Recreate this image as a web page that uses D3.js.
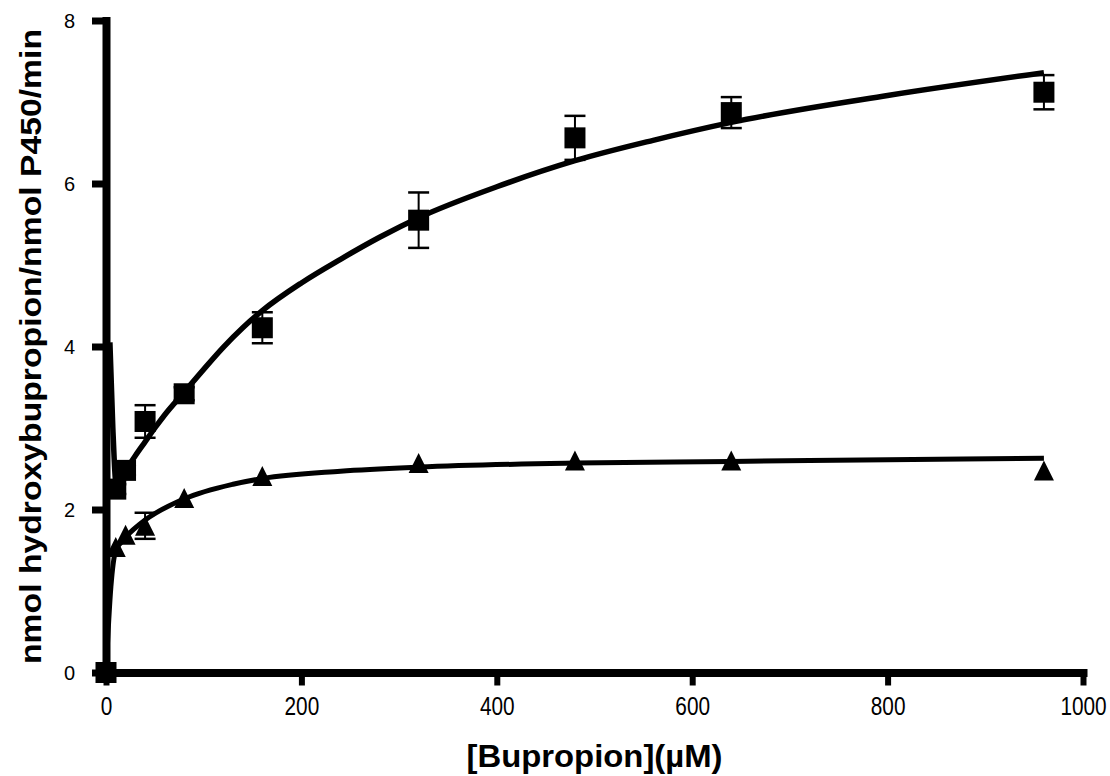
<!DOCTYPE html>
<html>
<head>
<meta charset="utf-8">
<script src="https://cdn.jsdelivr.net/npm/d3@7"></script>
<style>
  body { margin: 0; background: #fff; }
  svg { display: block; font-family: "Liberation Sans", Arial, sans-serif; }
</style>
</head>
<body>
<svg id="chart" width="1110" height="776"></svg>
<script>
// measured points (uM bupropion), mean and error
const conc = [0, 10, 20, 40, 80, 160, 320, 480, 640, 960];
const squareMean = [0, 2.25, 2.48, 3.08, 3.42, 4.23, 5.55, 6.56, 6.87, 7.12];
const squareErr = [0, 0.06, 0.06, 0.2, 0.08, 0.19, 0.34, 0.27, 0.19, 0.21];
const triMean = [0, 1.54, 1.69, 1.8, 2.14, 2.41, 2.57, 2.6, 2.6, 2.48];
const triErr = [0, 0, 0, 0.16, 0, 0, 0, 0, 0, 0];

// fitted curves
const squareFitX = [4, 7, 10.5, 20, 30, 40, 50, 60, 80, 100, 120, 140, 160, 200, 240, 280, 320, 400, 480, 560, 640, 800, 960];
const squareFitY = [4.05, 3.0, 2.3, 2.48, 2.66, 2.83, 3.0, 3.16, 3.44, 3.72, 3.99, 4.23, 4.44, 4.78, 5.07, 5.34, 5.58, 5.96, 6.28, 6.53, 6.75, 7.08, 7.36];
const triFitX = [0, 5, 10, 15, 20, 40, 80, 130, 160, 240, 320, 480, 640, 800, 960];
const triFitY = [0, 1.05, 1.5, 1.59, 1.66, 1.87, 2.13, 2.31, 2.38, 2.47, 2.52, 2.57, 2.59, 2.61, 2.63];

const xTicks = [0, 200, 400, 600, 800, 1000];
const yTicks = [0, 2, 4, 6, 8];

const svg = d3.select("#chart");

const x = d3.scaleLinear().domain([0, 1000]).range([106, 1083]);
const y = d3.scaleLinear().domain([0, 8]).range([672.5, 20.5]);

// axes
const yAxis = svg.append("g")
    .attr("transform", "translate(" + x(0) + ",0)")
    .call(d3.axisLeft(y).tickValues(yTicks).tickSize(14).tickSizeOuter(0).tickFormat(d3.format("d")))
    .attr("font-size", null).attr("font-family", null);
yAxis.select(".domain").attr("stroke", "#000").attr("stroke-width", 8).attr("stroke-linecap", "square");
yAxis.selectAll(".tick line").attr("stroke", "#000").attr("stroke-width", 7);
yAxis.selectAll(".tick text")
    .attr("x", -31).attr("dy", "0.36em")
    .attr("font-size", 20).attr("fill", "#000");

const xAxis = svg.append("g")
    .attr("transform", "translate(0," + y(0) + ")")
    .call(d3.axisBottom(x).tickValues(xTicks).tickSize(13).tickSizeOuter(0).tickFormat(d3.format("d")))
    .attr("font-size", null).attr("font-family", null);
xAxis.select(".domain").attr("stroke", "#000").attr("stroke-width", 8).attr("stroke-linecap", "square");
xAxis.selectAll(".tick line").attr("stroke", "#000").attr("stroke-width", 6);
xAxis.selectAll(".tick text")
    .attr("y", 43).attr("dy", 0)
    .attr("font-size", 26).attr("fill", "#000")
    .attr("transform", "scale(0.8,1)");

// axis titles, centred on the plot area
svg.append("text")
    .attr("x", (x.range()[0] + x.range()[1]) / 2).attr("y", 767)
    .attr("text-anchor", "middle")
    .attr("font-weight", "bold").attr("font-size", 31)
    .attr("textLength", 256).attr("lengthAdjust", "spacingAndGlyphs")
    .text("[Bupropion](µM)");

svg.append("text")
    .attr("transform", "translate(41," + (y.range()[0] + y.range()[1]) / 2 + ") rotate(-90)")
    .attr("text-anchor", "middle")
    .attr("font-weight", "bold").attr("font-size", 29)
    .attr("textLength", 635).attr("lengthAdjust", "spacingAndGlyphs")
    .text("nmol hydroxybupropion/nmol P450/min");

// data
const squares = conc.map((c, i) => ({ c: c, v: squareMean[i], e: squareErr[i] }));
const tris = conc.map((c, i) => ({ c: c, v: triMean[i], e: triErr[i] }));

const plot = svg.append("g");

function errorBars(data) {
    const g = plot.append("g").attr("stroke", "#000");
    const bars = g.selectAll("g").data(data.filter(d => d.e > 0)).join("g");
    bars.append("line")
        .attr("x1", d => x(d.c)).attr("x2", d => x(d.c))
        .attr("y1", d => y(d.v + d.e)).attr("y2", d => y(d.v - d.e))
        .attr("stroke-width", 2);
    bars.append("line")
        .attr("x1", d => x(d.c) - 10.5).attr("x2", d => x(d.c) + 10.5)
        .attr("y1", d => y(d.v + d.e)).attr("y2", d => y(d.v + d.e))
        .attr("stroke-width", 2.5);
    bars.append("line")
        .attr("x1", d => x(d.c) - 10.5).attr("x2", d => x(d.c) + 10.5)
        .attr("y1", d => y(d.v - d.e)).attr("y2", d => y(d.v - d.e))
        .attr("stroke-width", 2.5);
}

errorBars(tris);
errorBars(squares);

plot.append("g").selectAll("path")
    .data(tris).join("path")
    .attr("d", d => {
        const cx = x(d.c), cy = y(d.v);
        return "M" + cx + "," + (cy - 10) + "L" + (cx + 10) + "," + (cy + 10) + "L" + (cx - 10) + "," + (cy + 10) + "Z";
    })
    .attr("fill", "#000");

plot.append("g").selectAll("rect")
    .data(squares).join("rect")
    .attr("x", d => x(d.c) - 10.5).attr("y", d => y(d.v) - 10.5)
    .attr("width", 21).attr("height", 21)
    .attr("fill", "#000");

// fitted lines
const line = d3.line()
    .x(d => x(d[0])).y(d => y(d[1]))
    .curve(d3.curveMonotoneX);

plot.append("path")
    .datum(squareFitX.map((c, i) => [c, squareFitY[i]]))
    .attr("d", line)
    .attr("fill", "none").attr("stroke", "#000").attr("stroke-width", 5.5);

plot.append("path")
    .datum(triFitX.map((c, i) => [c, triFitY[i]]))
    .attr("d", line)
    .attr("fill", "none").attr("stroke", "#000").attr("stroke-width", 5);
</script>
</body>
</html>
